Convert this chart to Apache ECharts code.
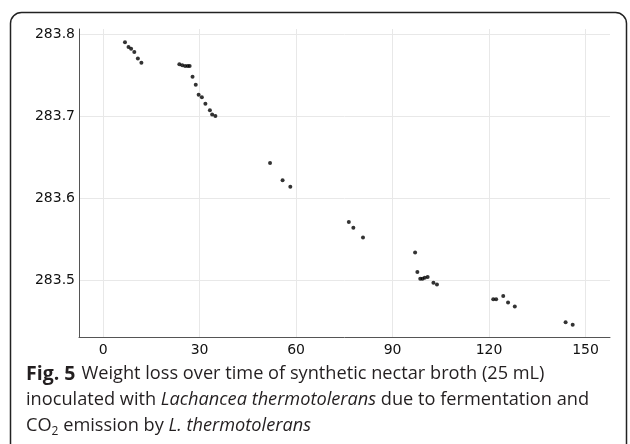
<!DOCTYPE html>
<html>
<head>
<meta charset="utf-8">
<script src="https://cdn.jsdelivr.net/npm/echarts@6/dist/echarts.min.js"></script>
<style>
  html, body { margin: 0; padding: 0; background: #fff; }
  #chart { width: 630px; height: 444px; }
</style>
</head>
<body>
<div id="chart"></div>
<script>
// time (h) and broth weight (g)
const timeH = [
  6.8, 7.9, 8.7, 9.7, 10.8, 11.9,
  23.7, 24.6, 25.5, 26.3, 26.9, 27.8, 28.8, 29.7, 30.7, 31.8, 33.2, 33.9, 34.9,
  51.9, 55.8, 58.2,
  76.4, 77.8, 80.8,
  97.0, 97.7, 98.6, 99.3, 100.0, 100.9, 102.7, 103.8,
  121.3, 122.2, 124.4, 125.9, 128.0,
  143.8, 146.0
]
const weightG = [
  283.790, 283.784, 283.782, 283.778, 283.770, 283.765,
  283.763, 283.762, 283.761, 283.761, 283.761, 283.748, 283.738, 283.726, 283.723, 283.715, 283.707, 283.702, 283.700,
  283.643, 283.622, 283.614,
  283.571, 283.564, 283.552,
  283.534, 283.510, 283.502, 283.502, 283.503, 283.504, 283.497, 283.495,
  283.477, 283.477, 283.481, 283.473, 283.468,
  283.449, 283.446
]
const xTicks = [0, 30, 60, 90, 120, 150]
const yTicks = [283.5, 283.6, 283.7, 283.8]

const points = timeH.map((t, i) => [t, weightG[i]])

const chart = echarts.init(document.getElementById('chart'), null, { renderer: 'canvas' })

const axisText = { color: '#111', fontSize: 14, fontFamily: 'DejaVu Sans' }

chart.setOption({
  animation: false,
  backgroundColor: '#fff',
  grid: { left: 79, right: 20, top: 29, bottom: 107, containLabel: false },
  xAxis: {
    type: 'value',
    min: -7.5,
    max: 157.6,
    axisLine: { show: true, onZero: false, lineStyle: { color: '#555', width: 1 } },
    axisTick: { show: false, customValues: xTicks },
    axisLabel: { ...axisText, margin: 6, customValues: xTicks },
    splitLine: { show: true, lineStyle: { color: '#e8e8e8', width: 1 } }
  },
  yAxis: {
    type: 'value',
    min: 283.431,
    max: 283.806,
    axisLine: { show: true, onZero: false, lineStyle: { color: '#555', width: 1 } },
    axisTick: { show: false, customValues: yTicks },
    axisLabel: { ...axisText, margin: 4, customValues: yTicks, formatter: v => v.toFixed(1) },
    splitLine: { show: true, lineStyle: { color: '#e8e8e8', width: 1 } }
  },
  series: [{
    type: 'scatter',
    data: points,
    symbolSize: 4,
    itemStyle: { color: '#000' }
  }],
  graphic: [
    // figure frame
    {
      type: 'rect',
      shape: { x: 10.5, y: 12.5, width: 616, height: 460, r: 11 },
      style: { fill: 'none', stroke: '#222', lineWidth: 1.5 },
      silent: true
    },
    // caption
    {
      type: 'text',
      left: 26,
      top: 361,
      style: {
        text: '{b|Fig. 5}{g| }Weight loss over time of synthetic nectar broth (25 mL)\n' +
              'inoculated with {i|Lachancea thermotolerans} due to fermentation and\n' +
              'CO{s|2} emission by {i|L. thermotolerans}',
        fontFamily: 'Open Sans',
        fontSize: 18.2,
        lineHeight: 26,
        fill: '#231f20',
        rich: {
          b: { fontFamily: 'Open Sans', fontSize: 19.5, fontWeight: 'bold', lineHeight: 26 },
          g: { fontSize: 18.2, lineHeight: 26, width: 6 },
          i: { fontFamily: 'Open Sans', fontSize: 18.2, fontStyle: 'italic', lineHeight: 26 },
          s: { fontFamily: 'Open Sans', fontSize: 12, lineHeight: 26, padding: [12, 0, 0, 0] }
        }
      }
    }
  ]
})
</script>
</body>
</html>
